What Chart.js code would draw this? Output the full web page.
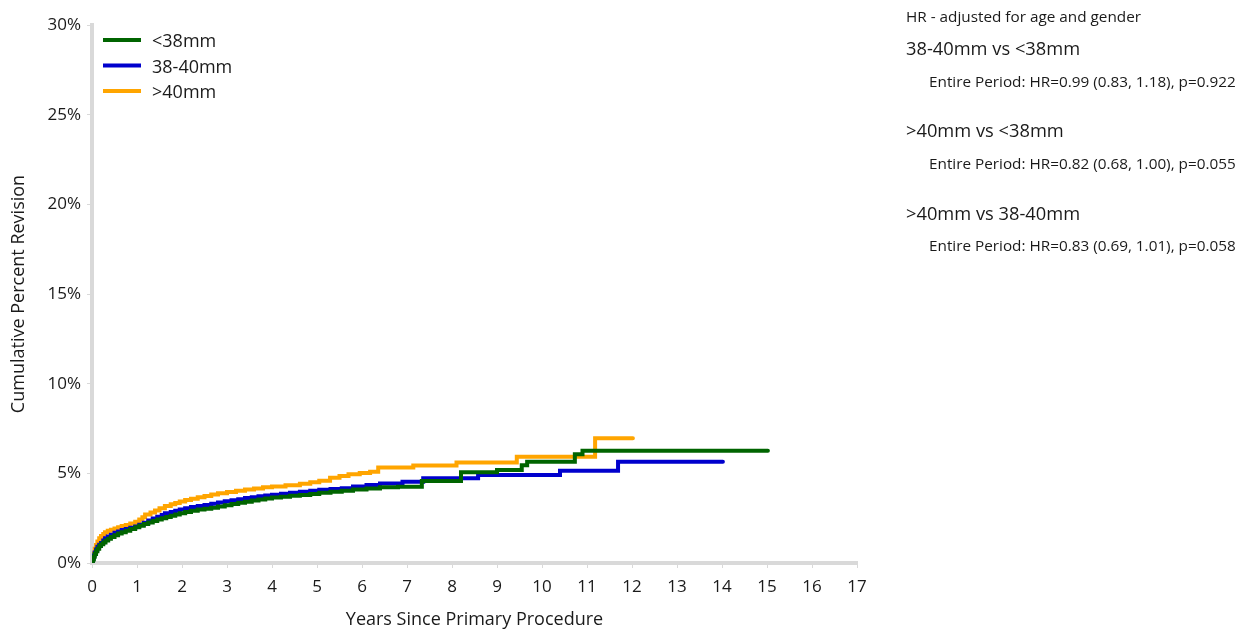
<!DOCTYPE html>
<html>
<head>
<meta charset="utf-8">
<script src="https://cdn.jsdelivr.net/npm/chart.js@4.4.1/dist/chart.umd.min.js"></script>
<style>
  html, body { margin: 0; padding: 0; background: #fff; }
  #wrap { position: relative; width: 1245px; height: 629px; font-family: "Open Sans", "Noto Sans", sans-serif; color: #1a1a1a; }
  #chart { position: absolute; left: 0; top: 0; }
  .note { position: absolute; white-space: nowrap; }
  .small { font-size: 15.3px; }
  .big { font-size: 18.3px; }
</style>
</head>
<body>
<div id="wrap">
  <canvas id="chart" width="1245" height="629"></canvas>
  <div class="note small" style="left:906px; top:6px;">HR - adjusted for age and gender</div>
  <div class="note big" style="left:906px; top:35px;">38-40mm vs &lt;38mm</div>
  <div class="note small" style="left:929px; top:71px;">Entire Period: HR=0.99 (0.83, 1.18), p=0.922</div>
  <div class="note big" style="left:906px; top:117px;">&gt;40mm vs &lt;38mm</div>
  <div class="note small" style="left:929px; top:153px;">Entire Period: HR=0.82 (0.68, 1.00), p=0.055</div>
  <div class="note big" style="left:906px; top:200px;">&gt;40mm vs 38-40mm</div>
  <div class="note small" style="left:929px; top:235px;">Entire Period: HR=0.83 (0.69, 1.01), p=0.058</div>
</div>
<script>
// Kaplan-Meier style cumulative revision (%).
const seriesLabels = ["<38mm", "38-40mm", ">40mm"];
const seriesColors = ["#006400", "#0000CD", "#FFA500"];

const yearsLt38 = [0, 0.02, 0.04, 0.06, 0.09, 0.12, 0.16, 0.2, 0.25, 0.3, 0.36, 0.42, 0.5, 0.58, 0.66, 0.75, 0.85, 0.96, 1.05, 1.15, 1.25, 1.35, 1.45, 1.55, 1.65, 1.75, 1.85, 1.95, 2.07, 2.2, 2.35, 2.5, 2.65, 2.8, 2.95, 3.1, 3.25, 3.4, 3.55, 3.7, 3.85, 4.0, 4.2, 4.4, 4.62, 4.85, 5.05, 5.3, 5.55, 5.8, 6.1, 6.4, 6.8, 7.33, 8.2, 9.0, 9.55, 9.67, 10.73, 10.9, 15.02];
const pctLt38   = [0, 0.2, 0.35, 0.5, 0.65, 0.8, 0.95, 1.05, 1.15, 1.25, 1.35, 1.45, 1.55, 1.65, 1.72, 1.8, 1.9, 2.0, 2.08, 2.17, 2.26, 2.34, 2.42, 2.5, 2.57, 2.63, 2.7, 2.77, 2.85, 2.92, 2.98, 3.03, 3.08, 3.15, 3.22, 3.29, 3.36, 3.42, 3.48, 3.54, 3.6, 3.65, 3.7, 3.75, 3.79, 3.85, 3.92, 3.98, 4.03, 4.1, 4.16, 4.22, 4.25, 4.57, 5.06, 5.19, 5.45, 5.65, 6.06, 6.26, 6.26];

const years3840 = [0, 0.02, 0.04, 0.06, 0.09, 0.12, 0.16, 0.2, 0.25, 0.29, 0.35, 0.42, 0.5, 0.58, 0.66, 0.75, 0.85, 0.96, 1.05, 1.15, 1.25, 1.35, 1.45, 1.55, 1.62, 1.75, 1.85, 1.95, 2.07, 2.2, 2.35, 2.5, 2.65, 2.8, 2.95, 3.1, 3.25, 3.4, 3.55, 3.7, 3.85, 4.0, 4.2, 4.4, 4.62, 4.85, 5.05, 5.3, 5.55, 5.8, 6.1, 6.4, 6.9, 7.36, 8.58, 10.4, 11.69, 14.02];
const pct3840   = [0, 0.25, 0.42, 0.58, 0.75, 0.9, 1.02, 1.12, 1.25, 1.38, 1.48, 1.58, 1.68, 1.76, 1.84, 1.9, 1.97, 2.03, 2.13, 2.25, 2.37, 2.48, 2.58, 2.68, 2.77, 2.85, 2.92, 2.98, 3.05, 3.12, 3.18, 3.24, 3.3, 3.38, 3.44, 3.5, 3.56, 3.62, 3.67, 3.72, 3.76, 3.8, 3.86, 3.92, 3.98, 4.03, 4.08, 4.12, 4.17, 4.26, 4.35, 4.44, 4.53, 4.72, 4.91, 5.15, 5.65, 5.65];

const yearsGt40 = [0, 0.02, 0.04, 0.06, 0.09, 0.12, 0.16, 0.2, 0.25, 0.29, 0.35, 0.42, 0.5, 0.58, 0.66, 0.75, 0.85, 0.96, 1.05, 1.12, 1.18, 1.3, 1.4, 1.5, 1.62, 1.75, 1.85, 1.95, 2.07, 2.2, 2.35, 2.5, 2.65, 2.8, 3.0, 3.2, 3.4, 3.6, 3.8, 4.0, 4.3, 4.62, 4.85, 5.05, 5.29, 5.5, 5.7, 5.95, 6.18, 6.36, 7.14, 8.1, 9.44, 11.18, 12.02];
const pctGt40   = [0, 0.3, 0.55, 0.8, 1.0, 1.2, 1.38, 1.5, 1.62, 1.72, 1.8, 1.86, 1.93, 2.0, 2.06, 2.12, 2.2, 2.3, 2.42, 2.55, 2.7, 2.82, 2.93, 3.05, 3.18, 3.27, 3.35, 3.43, 3.51, 3.58, 3.66, 3.74, 3.82, 3.89, 3.96, 4.03, 4.1, 4.16, 4.22, 4.27, 4.34, 4.42, 4.5, 4.58, 4.75, 4.85, 4.95, 5.02, 5.09, 5.32, 5.43, 5.6, 5.93, 6.95, 6.95];

const xRange = [0, 17];   // years
const yRange = [0, 30];   // percent

function toPoints(xs, ys) {
  return xs.map((x, i) => ({ x: x, y: ys[i] }));
}

const seriesData = [toPoints(yearsLt38, pctLt38), toPoints(years3840, pct3840), toPoints(yearsGt40, pctGt40)];

const FONT = '"Open Sans", "Noto Sans", sans-serif';
const TEXT = "#1a1a1a";

// legend drawn inside the plot, top-left, as in the reference
const insideLegend = {
  id: "insideLegend",
  afterDraw(chart) {
    const ctx = chart.ctx;
    const left = chart.chartArea.left + 11;
    ctx.save();
    ctx.font = "18px " + FONT;
    ctx.textBaseline = "middle";
    chart.data.datasets.forEach((ds, i) => {
      const y = chart.chartArea.top + 15 + i * 25.5;
      ctx.strokeStyle = ds.borderColor;
      ctx.lineWidth = 4;
      ctx.beginPath();
      ctx.moveTo(left, y);
      ctx.lineTo(left + 38, y);
      ctx.stroke();
      ctx.fillStyle = TEXT;
      ctx.fillText(ds.label, left + 49, y + 2);
    });
    ctx.restore();
  }
};

new Chart(document.getElementById("chart"), {
  type: "line",
  data: {
    datasets: seriesLabels.map((lab, i) => ({
      label: lab,
      data: seriesData[i],
      borderColor: seriesColors[i],
      backgroundColor: seriesColors[i],
      borderWidth: 4,
      pointRadius: 0,
      stepped: true,
      fill: false,
      borderCapStyle: "round",
    })),
  },
  options: {
    responsive: false,
    animation: false,
    layout: { padding: { top: 25, right: 388, bottom: -6, left: 0 } },
    plugins: { legend: { display: false }, tooltip: { enabled: false } },
    scales: {
      x: {
        type: "linear",
        min: xRange[0], max: xRange[1],
        ticks: { stepSize: 1, color: TEXT, font: { family: FONT, size: 17 }, padding: 9 },
        grid: { drawOnChartArea: false, drawTicks: true, tickLength: 5, color: "#d9d9d9" },
        border: { color: "#d9d9d9", width: 4 },
        title: { display: true, text: "Years Since Primary Procedure", color: TEXT, font: { family: FONT, size: 18 }, padding: { top: 6, bottom: 4 } },
        afterFit(scale) { scale.height = 72; },
      },
      y: {
        type: "linear",
        min: yRange[0], max: yRange[1],
        ticks: { stepSize: 5, color: TEXT, font: { family: FONT, size: 17 }, padding: 6, callback: v => v + "%" },
        grid: { drawOnChartArea: false, drawTicks: true, tickLength: 5, color: "#d9d9d9" },
        border: { color: "#d9d9d9", width: 4 },
        title: { display: true, text: "Cumulative Percent Revision", color: TEXT, font: { family: FONT, size: 18 }, padding: { top: 8, bottom: 0 } },
        afterFit(scale) { scale.width = 92; },
      },
    },
  },
  plugins: [insideLegend],
});
</script>
</body>
</html>
